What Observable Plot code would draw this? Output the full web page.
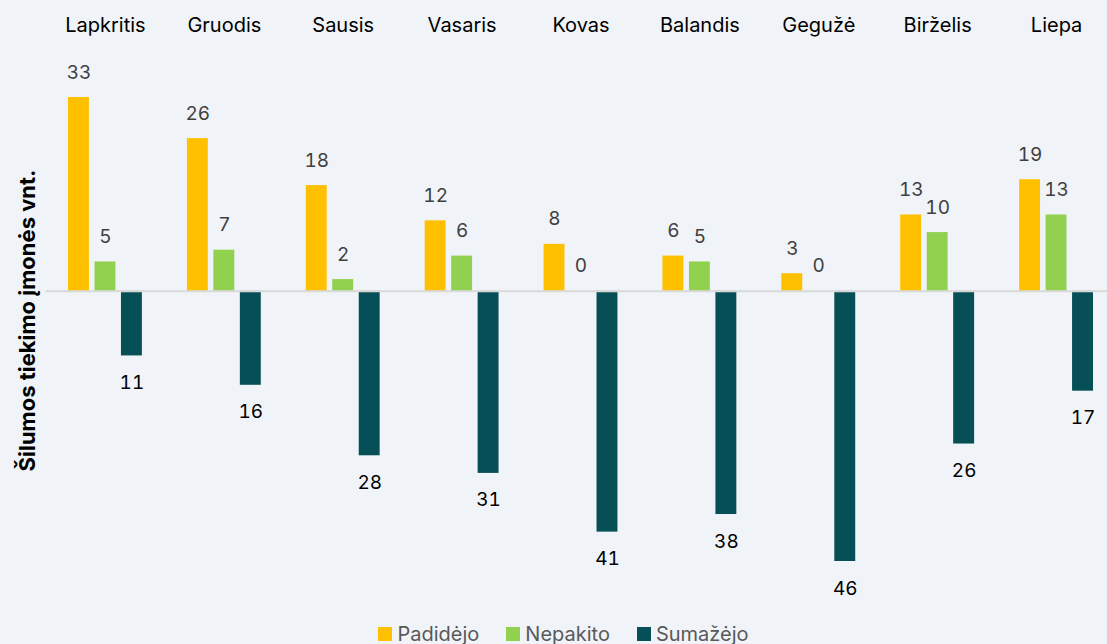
<!DOCTYPE html>
<html>
<head>
<meta charset="utf-8">
<script src="https://cdn.jsdelivr.net/npm/d3@7"></script>
<script src="https://cdn.jsdelivr.net/npm/@observablehq/plot@0.6"></script>
<style>
  html, body { margin: 0; padding: 0; background: #f0f4f8; overflow: hidden; }
  body { width: 1107px; height: 644px; font-family: "Inter", "Noto Sans", sans-serif; }
  #chart { width: 1107px; overflow: hidden; }
  #legend { display: flex; justify-content: center; gap: 27px; height: 29px; align-items: center; font-size: 20px; color: #595959; margin-left: 20px; margin-top: 4px; }
  #legend span.item { display: flex; align-items: center; }
  #legend span.sw { width: 14px; height: 14px; display: inline-block; margin-right: 5px; }
</style>
</head>
<body>
<div id="chart"></div>
<div id="legend"></div>
<script>
const months = ["Lapkritis", "Gruodis", "Sausis", "Vasaris", "Kovas", "Balandis", "Gegužė", "Birželis", "Liepa"];
const seriesNames = ["Padidėjo", "Nepakito", "Sumažėjo"];
const padidejo = [33, 26, 18, 12, 8, 6, 3, 13, 19];
const nepakito = [5, 7, 2, 6, 0, 5, 0, 10, 13];
const sumazejo = [11, 16, 28, 31, 41, 38, 46, 26, 17];
const colors = ["#FFC000", "#92D050", "#074F57"];
const yTitle = "Šilumos tiekimo įmonės vnt.";

const data = months.flatMap((m, i) => [
  {month: m, series: seriesNames[0], value: padidejo[i]},
  {month: m, series: seriesNames[1], value: nepakito[i]},
  {month: m, series: seriesNames[2], value: -sumazejo[i]}
]);
const pos = data.filter(d => d.series !== seriesNames[2]);
const neg = data.filter(d => d.series === seriesNames[2]);

const chart = Plot.plot({
  width: 1107,
  height: 615,
  marginLeft: 45.5,
  marginRight: -8.5,
  marginTop: 40,
  marginBottom: 15,
  style: {background: "transparent", fontFamily: "Inter, 'Noto Sans', sans-serif", overflow: "hidden"},
  fx: {domain: months, padding: 0, round: false, label: null},
  x: {domain: seriesNames, paddingInner: 0.21, paddingOuter: 0.85, round: false, axis: null},
  y: {domain: [-46, 33], range: [561, 97], axis: null},
  color: {domain: seriesNames, range: colors},
  marks: [
    Plot.barY(data, {fx: "month", x: "series", y: "value", fill: "series"}),
    Plot.ruleY([0], {stroke: "#d9d9d9", strokeWidth: 2}),
    Plot.text(pos, {fx: "month", x: "series", y: "value", text: d => d.value, dy: -25, fill: "#404040", fontSize: 19}),
    Plot.text(neg, {fx: "month", x: "series", y: "value", text: d => -d.value, dy: 27, fill: "#000", fontSize: 19}),
    Plot.axisFx({anchor: "top", tickSize: 0, tickPadding: 9, fontSize: 20, label: null, fill: "#000"}),
    Plot.axisY({ticks: [], tickSize: 0, label: yTitle, labelAnchor: "center", labelOffset: 27, labelArrow: false, fontSize: 22, fontWeight: "bold", fill: "#000"})
  ]
});
document.getElementById("chart").appendChild(chart);

const legend = document.getElementById("legend");
seriesNames.forEach((s, i) => {
  const item = document.createElement("span");
  item.className = "item";
  const sw = document.createElement("span");
  sw.className = "sw";
  sw.style.background = colors[i];
  item.appendChild(sw);
  item.appendChild(document.createTextNode(s));
  legend.appendChild(item);
});
</script>
</body>
</html>
